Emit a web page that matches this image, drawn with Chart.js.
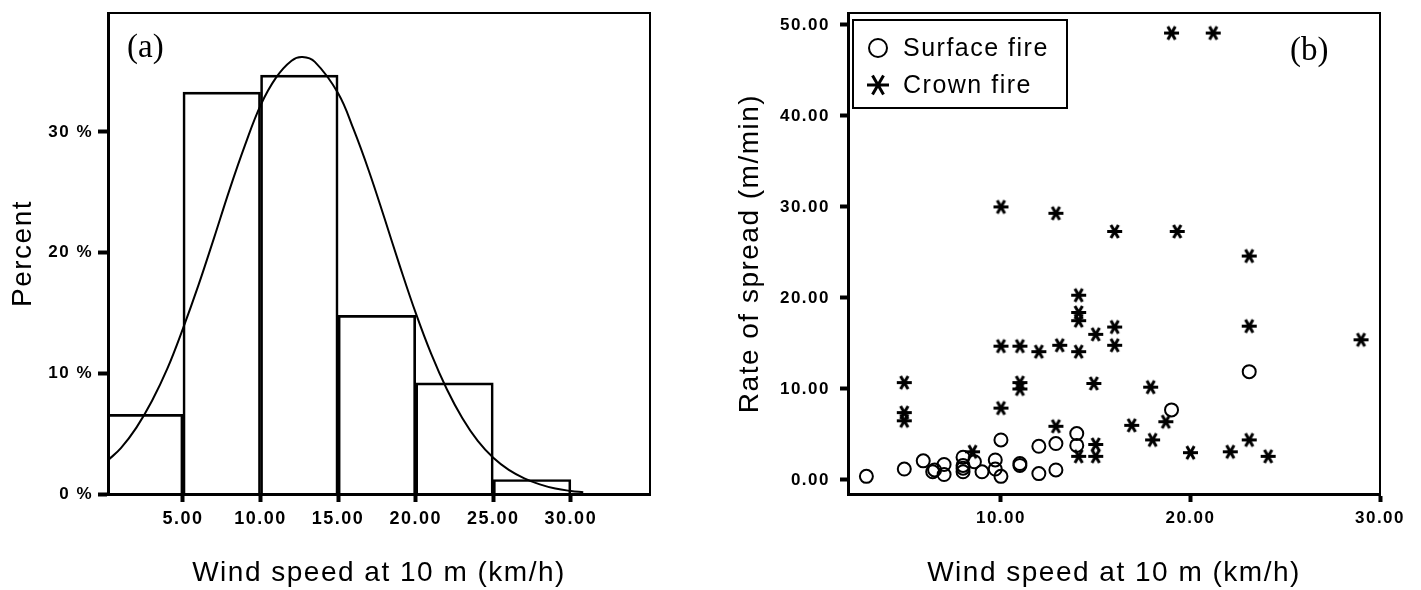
<!DOCTYPE html>
<html>
<head>
<meta charset="utf-8">
<title>Wind speed and rate of spread</title>
<script src="https://cdn.jsdelivr.net/npm/chart.js@4/dist/chart.umd.min.js"></script>
<style>
    body { margin: 0; background: #fff; }
    canvas { position: absolute; top: 0; }
    #hist { left: 0; }
    #scatter { left: 700px; }
</style>
</head>
<body>
<canvas id="hist" width="700" height="590"></canvas>
<canvas id="scatter" width="721" height="590"></canvas>
<script>
// (a) wind speed histogram, 5 km/h bins
const binCenters = [2.5, 7.5, 12.5, 17.5, 22.5, 27.5]
const binPercent = [6.6, 33.3, 34.7, 14.8, 9.2, 1.2]

// normal curve laid over the bins
const curveWind = [0.17, 1, 2, 3, 4, 5, 6, 7, 8, 9, 10, 11, 12, 12.7, 13.5, 15, 16, 17, 18, 19, 20, 21, 22, 23, 24, 25, 26, 27, 28, 29, 30, 30.8]
const curvePercent = [2.8, 3.8, 5.5, 7.7, 10.4, 13.7, 17.3, 21.2, 25.2, 28.9, 32.2, 34.5, 35.9, 36.2, 35.8, 33.2, 30.2, 26.7, 22.8, 18.8, 15.0, 11.6, 8.7, 6.3, 4.4, 3.0, 2.0, 1.3, 0.8, 0.45, 0.25, 0.15]

const histTicksX = [5, 10, 15, 20, 25, 30]
const histTicksY = [0, 10, 20, 30]

// (b) rate of spread against wind speed
const surfaceWind = [2.9, 4.9, 5.9, 6.4, 6.5, 7.0, 7.0, 8.0, 8.0, 8.0, 8.0, 8.6, 9.0, 9.7, 9.7, 10.0, 10.0, 11.0, 11.0, 12.0, 12.0, 12.9, 12.9, 14.0, 14.0, 19.0, 23.1]
const surfaceSpread = [0.4, 1.2, 2.1, 0.9, 1.1, 1.7, 0.6, 2.5, 1.6, 1.3, 0.9, 2.0, 0.9, 2.2, 1.2, 4.4, 0.4, 1.8, 1.6, 3.7, 0.7, 4.0, 1.1, 5.1, 3.8, 7.7, 11.9]

const crownWind = [4.9, 4.9, 4.9, 8.5, 10.0, 10.0, 10.0, 11.0, 11.0, 11.0, 12.0, 12.9, 13.1, 12.9, 14.1, 14.1, 14.1, 14.1, 14.1, 14.9, 15.0, 15.0, 15.0, 16.0, 16.0, 16.0, 16.9, 17.9, 18.0, 18.7, 19.0, 19.3, 20.0, 21.2, 22.1, 23.1, 23.1, 23.1, 24.1, 29.0]
const crownSpread = [10.7, 7.4, 6.5, 3.1, 30.0, 14.7, 7.9, 14.7, 10.7, 10.0, 14.1, 29.3, 14.8, 5.9, 20.3, 18.4, 17.5, 14.1, 2.6, 10.6, 16.0, 3.9, 2.6, 27.3, 16.8, 14.8, 6.0, 10.2, 4.4, 6.4, 49.1, 27.3, 3.0, 49.1, 3.1, 24.6, 16.9, 4.4, 2.6, 15.4]

const scatterTicksX = [10, 20, 30]
const scatterTicksY = [0, 10, 20, 30, 40, 50]

const SANS = '"Liberation Sans", Arial, sans-serif'
const SERIF = '"Liberation Serif", "Times New Roman", serif'

Chart.defaults.color = '#000'
Chart.defaults.font.family = SANS

const zip = (xs, ys) => xs.map((x, i) => ({ x: x, y: ys[i] }))
const fixedTicks = values => scale => { scale.ticks = values.map(v => ({ value: v })) }

// fixed axis box; the edge tick labels may overhang the plot box
const fixedWidth = w => s => { s.width = w; s.paddingTop = 0; s.paddingBottom = 0 }
const fixedHeight = h => s => { s.height = h }

// six-armed asterisk used for crown fires
function asterisk(ctx, x, y, r, lw) {
    ctx.save()
    ctx.strokeStyle = '#000'
    ctx.lineWidth = lw
    ctx.beginPath()
    for (let k = 0; k < 3; k++) {
        const a = k * Math.PI / 3
        ctx.moveTo(x - r * Math.cos(a), y - r * Math.sin(a))
        ctx.lineTo(x + r * Math.cos(a), y + r * Math.sin(a))
    }
    ctx.stroke()
    ctx.restore()
}

function starMarker(size, lw) {
    const c = document.createElement('canvas')
    c.width = size
    c.height = size
    asterisk(c.getContext('2d'), size / 2, size / 2, size / 2 - 1, lw)
    return c
}

// wide letter spacing on every label
const spacing = {
    id: 'spacing',
    beforeLayout(chart) { chart.ctx.letterSpacing = '1.5px' },
    beforeDraw(chart) { chart.ctx.letterSpacing = '1.5px' }
}

// top and right edges of the plot box
const frame = {
    id: 'frame',
    afterDraw(chart) {
        const { ctx, chartArea: a } = chart
        ctx.save()
        ctx.strokeStyle = '#000'
        ctx.lineWidth = 2
        ctx.beginPath()
        ctx.moveTo(a.left, a.top)
        ctx.lineTo(a.right, a.top)
        ctx.lineTo(a.right, a.bottom)
        ctx.stroke()
        ctx.restore()
    }
}

const panelLabel = (text, x, y) => ({
    id: 'panelLabel',
    afterDraw(chart) {
        const ctx = chart.ctx
        ctx.save()
        ctx.letterSpacing = '0px'
        ctx.font = '33px ' + SERIF
        ctx.fillStyle = '#000'
        ctx.textAlign = 'left'
        ctx.textBaseline = 'alphabetic'
        ctx.fillText(text, x, y)
        ctx.restore()
    }
})

// boxed legend in the upper left corner of the plot
const boxLegend = {
    id: 'boxLegend',
    afterDraw(chart) {
        const ctx = chart.ctx
        const x = chart.chartArea.left + 5
        const y = chart.chartArea.top + 7
        const sets = chart.data.datasets
        ctx.save()
        ctx.strokeStyle = '#000'
        ctx.fillStyle = '#000'
        ctx.lineWidth = 2
        ctx.strokeRect(x, y, 214, 88)
        ctx.font = '25px ' + SANS
        ctx.textAlign = 'left'
        ctx.textBaseline = 'middle'
        ctx.beginPath()
        ctx.arc(x + 25, y + 28, 9, 0, 2 * Math.PI)
        ctx.stroke()
        ctx.fillText(sets[0].label, x + 50, y + 29)
        asterisk(ctx, x + 25, y + 65, 11, 3)
        ctx.fillText(sets[1].label, x + 50, y + 66)
        ctx.restore()
    }
}

const tickFont = { size: 17, weight: 'bold' }
const titleFont = { size: 28, lineHeight: 1.2 }

new Chart(document.getElementById('hist'), {
    type: 'bar',
    data: {
        datasets: [{
            type: 'line',
            label: 'Normal',
            data: zip(curveWind, curvePercent),
            borderColor: '#000',
            borderWidth: 2,
            pointRadius: 0,
            tension: 0.4,
            fill: false
        }, {
            type: 'bar',
            label: 'Percent',
            data: zip(binCenters, binPercent),
            backgroundColor: 'rgba(0,0,0,0)',
            borderColor: '#000',
            borderWidth: 2,
            barPercentage: 1,
            categoryPercentage: 1
        }]
    },
    options: {
        responsive: false,
        animation: false,
        layout: { padding: { top: 13, right: 50, left: 0, bottom: 0 } },
        plugins: { legend: { display: false }, tooltip: { enabled: false } },
        scales: {
            x: {
                type: 'linear',
                min: 0.17,
                max: 35.1,
                offset: false,
                afterBuildTicks: fixedTicks(histTicksX),
                afterFit: fixedHeight(96),
                grid: { offset: false, drawOnChartArea: false, tickLength: 8, tickWidth: 4, tickColor: '#000' },
                border: { color: '#000', width: 3 },
                ticks: { font: { size: 18, weight: 'bold' }, padding: 6, maxRotation: 0, callback: v => v.toFixed(2) },
                title: { display: true, text: 'Wind speed at 10 m (km/h)', font: titleFont, padding: { top: 0, bottom: 0 } }
            },
            y: {
                min: 0,
                max: 39.85,
                afterBuildTicks: fixedTicks(histTicksY),
                afterFit: fixedWidth(108),
                grid: { drawOnChartArea: false, tickLength: 10, tickWidth: 4, tickColor: '#000' },
                border: { color: '#000', width: 3 },
                ticks: { font: tickFont, padding: 5, callback: v => v + ' %' },
                title: { display: true, text: 'Percent', font: titleFont, padding: { top: 6, bottom: 0 } }
            }
        }
    },
    plugins: [spacing, frame, panelLabel('(a)', 127, 57)]
})

new Chart(document.getElementById('scatter'), {
    type: 'scatter',
    data: {
        datasets: [{
            label: 'Surface fire',
            data: zip(surfaceWind, surfaceSpread),
            pointStyle: 'circle',
            pointRadius: 6.5,
            borderWidth: 2,
            borderColor: '#000',
            backgroundColor: 'rgba(0,0,0,0)'
        }, {
            label: 'Crown fire',
            data: zip(crownWind, crownSpread),
            pointStyle: starMarker(17, 3),
            pointRadius: 8,
            borderColor: '#000',
            backgroundColor: '#000'
        }]
    },
    options: {
        responsive: false,
        animation: false,
        layout: { padding: { top: 13, right: 41, left: 0, bottom: 0 } },
        plugins: { legend: { display: false }, tooltip: { enabled: false } },
        scales: {
            x: {
                type: 'linear',
                min: 1.93,
                max: 30,
                afterBuildTicks: fixedTicks(scatterTicksX),
                afterFit: fixedHeight(96),
                grid: { drawOnChartArea: false, tickLength: 8, tickWidth: 4, tickColor: '#000' },
                border: { color: '#000', width: 3 },
                ticks: { font: tickFont, padding: 6, maxRotation: 0, callback: v => v.toFixed(2) },
                title: { display: true, text: 'Wind speed at 10 m (km/h)', font: titleFont, padding: { top: 0, bottom: 0 } }
            },
            y: {
                min: -1.54,
                max: 51.3,
                afterBuildTicks: fixedTicks(scatterTicksY),
                afterFit: fixedWidth(148),
                grid: { drawOnChartArea: false, tickLength: 8, tickWidth: 4, tickColor: '#000' },
                border: { color: '#000', width: 3 },
                ticks: { font: tickFont, padding: 10, callback: v => v.toFixed(2) },
                title: { display: true, text: 'Rate of spread (m/min)', font: titleFont, padding: { top: 33, bottom: 0 } }
            }
        }
    },
    plugins: [spacing, frame, boxLegend, panelLabel('(b)', 590, 60)]
})
</script>
</body>
</html>
